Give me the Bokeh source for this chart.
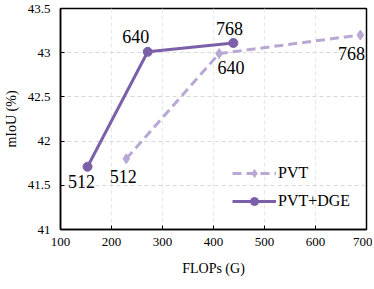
from bokeh.plotting import figure
from bokeh.models import ColumnDataSource, FixedTicker, Legend, LegendItem
from bokeh.core.properties import value
from bokeh.embed import file_html
from bokeh.resources import INLINE

# data
res_labels = ["512", "640", "768"]
pvt_flops = [229, 411, 688]
pvt_miou = [41.80, 42.99, 43.20]
dge_flops = [153, 271, 439]
dge_miou = [41.71, 43.01, 43.11]
x_ticks = [100, 200, 300, 400, 500, 600, 700]
y_ticks = [41, 41.5, 42, 42.5, 43, 43.5]
y_tick_labels = ["41", "41.5", "42", "42.5", "43", "43.5"]

FONT = "'Liberation Serif', 'Times New Roman', serif"
C_DGE = "#7b5fa8"
C_PVT = "#b9a8d4"

p = figure(width=358, height=273, x_range=(100, 700), y_range=(41, 43.5),
           output_backend="svg", toolbar_location=None,
           min_border_left=48, min_border_right=6, min_border_top=8, min_border_bottom=38)
p.frame_width = 306
p.frame_height = 221

p.outline_line_color = "black"
p.outline_line_width = 1.5
p.background_fill_color = "white"

p.xaxis.ticker = FixedTicker(ticks=x_ticks)
p.yaxis.ticker = FixedTicker(ticks=y_ticks)
p.yaxis.major_label_overrides = {t: l for t, l in zip(y_ticks, y_tick_labels)}
for ax in (p.xaxis[0], p.yaxis[0]):
    ax.major_label_text_font = FONT
    ax.major_label_text_font_size = "13px"
    ax.major_label_text_color = "black"
    ax.axis_label_text_font = FONT
    ax.axis_label_text_font_size = "14px"
    ax.axis_label_text_font_style = "normal"
    ax.axis_label_text_color = "black"
    ax.axis_line_color = "black"
    ax.axis_line_width = 1.5
    ax.major_tick_in = 4
    ax.major_tick_out = 0
    ax.major_tick_line_color = "black"
    ax.minor_tick_line_color = None
p.xaxis.axis_label = "FLOPs (G)"
p.yaxis.axis_label = "mIoU (%)"
p.xaxis.major_label_standoff = 8
p.yaxis.major_label_standoff = 10
p.xaxis.axis_label_standoff = 12
p.yaxis.axis_label_standoff = 6

p.xgrid.grid_line_color = "#e6e6e6"
p.xgrid.grid_line_dash = "4 3"
p.xgrid.grid_line_width = 1
p.ygrid.grid_line_color = "#d9d9d9"
p.ygrid.grid_line_dash = "4 3"
p.ygrid.grid_line_width = 1

src_pvt = ColumnDataSource(dict(x=pvt_flops, y=pvt_miou, t=res_labels,
                                dx=[-3, 12, -9], dy=[18, 14, 18]))
src_dge = ColumnDataSource(dict(x=dge_flops, y=dge_miou, t=res_labels,
                                dx=[-6, -12, -4], dy=[15, -15, -14]))

l1 = p.line("x", "y", source=src_pvt, line_color=C_PVT, line_width=3, line_dash="9 5")
m1 = p.scatter("x", "y", source=src_pvt, marker="diamond", size=10, fill_color=C_PVT,
               line_color=C_PVT)
l2 = p.line("x", "y", source=src_dge, line_color=C_DGE, line_width=3)
m2 = p.scatter("x", "y", source=src_dge, marker="circle", size=9, fill_color=C_DGE,
               line_color=C_DGE)

for s in (src_pvt, src_dge):
    p.text("x", "y", text="t", source=s, x_offset="dx", y_offset="dy",
           text_align="center", text_baseline="middle",
           text_font=value(FONT), text_font_size="18px", text_color="black")

legend = Legend(items=[LegendItem(label="PVT", renderers=[l1, m1]),
                       LegendItem(label="PVT+DGE", renderers=[l2, m2])],
                location=(172, 18))
legend.label_text_font = FONT
legend.label_text_font_size = "16px"
legend.label_text_color = "black"
legend.glyph_width = 44
legend.label_standoff = 2
legend.spacing = 8
legend.padding = 0
legend.margin = 0
legend.border_line_alpha = 0
legend.background_fill_alpha = 0
p.add_layout(legend)

open("out.html", "w").write(file_html(p, INLINE))
